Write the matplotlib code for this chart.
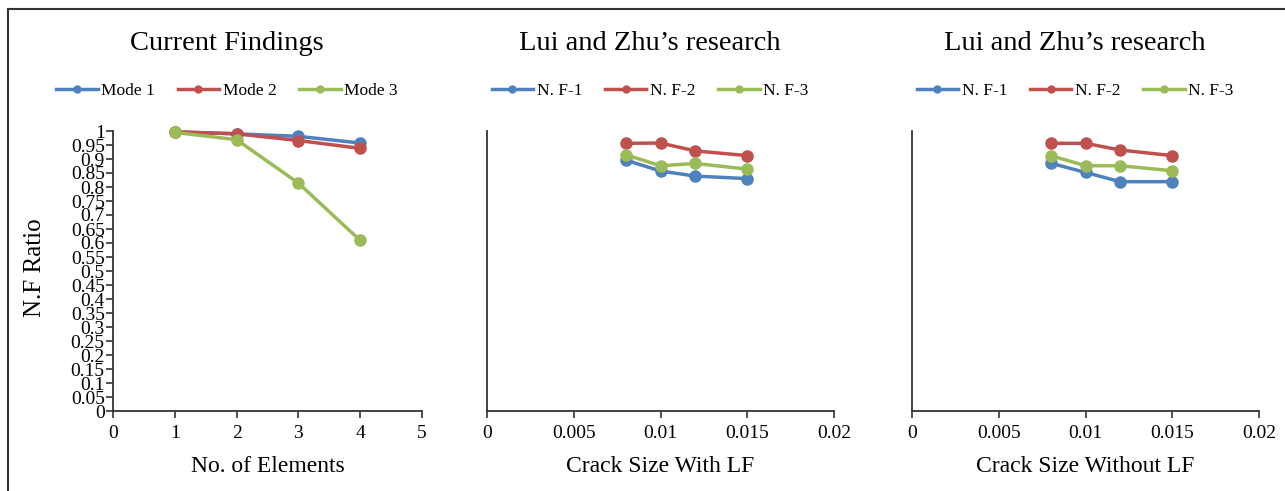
import matplotlib
matplotlib.use("Agg")
import matplotlib.pyplot as plt
from matplotlib.lines import Line2D

plt.rcParams['font.family'] = ['Liberation Serif', 'DejaVu Serif']

# Current findings: N.F ratio against number of elements
elements = [1, 2, 3, 4]
mode1 = [0.997, 0.990, 0.981, 0.957]
mode2 = [0.997, 0.990, 0.966, 0.938]
mode3 = [0.995, 0.969, 0.814, 0.609]

# Lui and Zhu: N.F ratio against crack size
crack = [0.008, 0.010, 0.012, 0.015]
with_lf_nf1 = [0.896, 0.857, 0.839, 0.830]
with_lf_nf2 = [0.956, 0.957, 0.929, 0.912]
with_lf_nf3 = [0.915, 0.876, 0.884, 0.864]
without_lf_nf1 = [0.885, 0.852, 0.819, 0.819]
without_lf_nf2 = [0.956, 0.956, 0.932, 0.912]
without_lf_nf3 = [0.912, 0.876, 0.876, 0.858]

titles = ['Current Findings', 'Lui and Zhu\u2019s research', 'Lui and Zhu\u2019s research']
xlabels = ['No. of Elements', 'Crack Size With LF', 'Crack Size Without LF']
mode_names = ['Mode 1', 'Mode 2', 'Mode 3']
nf_names = ['N. F-1', 'N. F-2', 'N. F-3']

colors = ['#4F81BD', '#C0504D', '#9BBB59']

W, H = 1285, 491
fig = plt.figure(figsize=(W / 100, H / 100), dpi=100)


def fx(px):
    return px / W


def fy(py):
    return 1 - py / H


# pixel boxes: left, right for each panel; shared top/bottom
panels = [(113, 422), (487, 834), (912, 1259)]
top, bottom = 131, 411
centers = [227, 650, 1075]

series = [
    (elements, [mode1, mode2, mode3], mode_names),
    (crack, [with_lf_nf1, with_lf_nf2, with_lf_nf3], nf_names),
    (crack, [without_lf_nf1, without_lf_nf2, without_lf_nf3], nf_names),
]

for i, ((l, r), (xs, ys_list, names)) in enumerate(zip(panels, series)):
    ax = fig.add_axes([fx(l), fy(bottom), fx(r - l), (bottom - top) / H])
    for ys, name, c in zip(ys_list, names, colors):
        ax.plot(xs, ys, color=c, lw=2.5, marker='o', markersize=8,
                label=name, clip_on=False, zorder=3)
    ax.set_ylim(0, 1)
    for s in ['top', 'right']:
        ax.spines[s].set_visible(False)
    for s in ['left', 'bottom']:
        ax.spines[s].set_color('#333333')
        ax.spines[s].set_linewidth(1.3)
    if i == 0:
        ax.set_xlim(0, 5)
        ax.set_xticks(range(6))
        yt = [k * 0.05 for k in range(21)]
        ax.set_yticks(yt)
        ax.set_yticklabels(['0'] + ['%g' % round(v, 2) for v in yt[1:-1]] + ['1'])
        ax.tick_params(axis='y', length=5, width=1.2, color='#333333',
                       labelsize=14, pad=1)
    else:
        ax.set_xlim(0, 0.02)
        ax.set_xticks([0, 0.005, 0.01, 0.015, 0.02])
        ax.set_xticklabels(['0', '0.005', '0.01', '0.015', '0.02'])
        ax.set_yticks([])
    ax.tick_params(axis='x', length=5, width=1.2, color='#333333',
                   labelsize=14, pad=5)

    cx = (l + r) / 2
    fig.text(fx(cx), fy(466), xlabels[i], ha='center', va='center', fontsize=17)
    fig.text(fx(centers[i]), fy(43), titles[i], ha='center', va='center',
             fontsize=20.5)

    handles = [Line2D([], [], color=c, lw=2.5, marker='o', markersize=5)
               for c in colors]
    fig.legend(handles, names, loc='center', ncol=3, frameon=False,
               bbox_to_anchor=(fx(centers[i]), fy(91)), fontsize=12.5,
               handlelength=2.4, handletextpad=0.2, columnspacing=1.3)

fig.text(fx(35), fy(268), 'N.F Ratio', rotation=90, ha='center', va='center',
         fontsize=18)

# outer frame, top and left edges
fig.add_artist(Line2D([fx(8), 1], [fy(9), fy(9)], color='#333333', lw=1.5))
fig.add_artist(Line2D([fx(8), fx(8)], [0, fy(9)], color='#333333', lw=1.5))

fig.savefig('out.png', dpi=100)
